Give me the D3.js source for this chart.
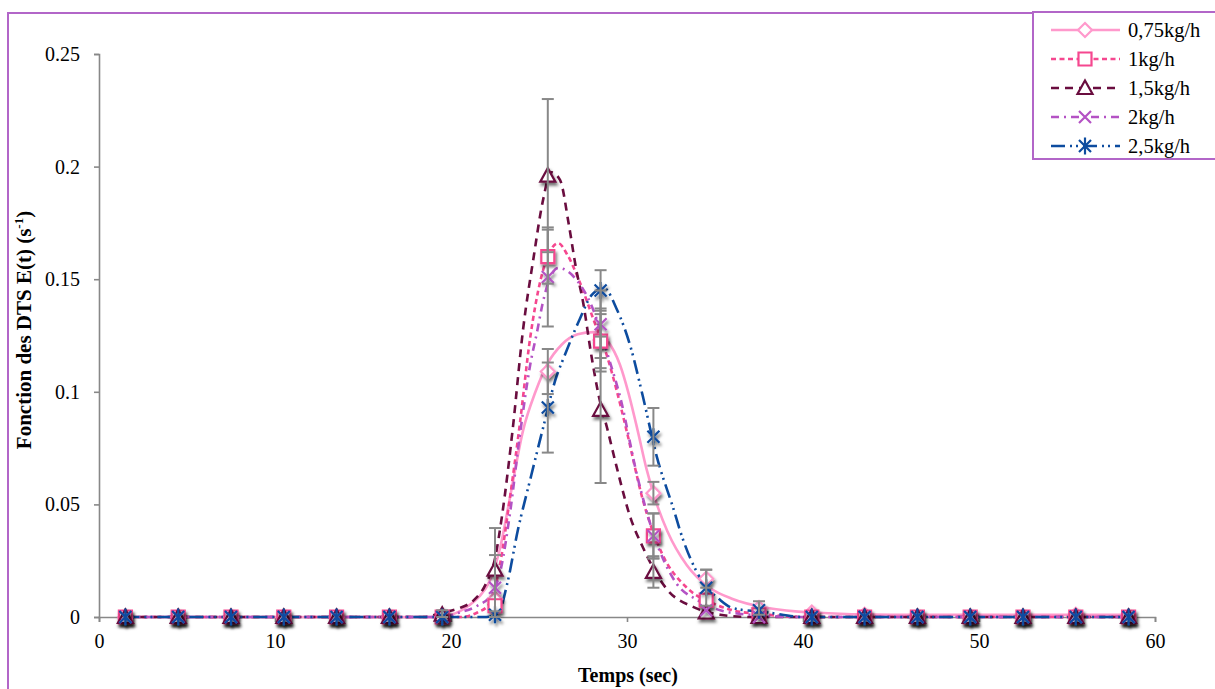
<!DOCTYPE html>
<html>
<head>
<meta charset="utf-8">
<script src="https://cdn.jsdelivr.net/npm/d3@7"></script>
<style>
  html, body { margin: 0; padding: 0; background: #fff; }
  svg { display: block; }
</style>
</head>
<body>
<svg id="chart" width="1215" height="689"></svg>
<script>
// ---------- DATA ----------
const times = [1.5, 4.5, 7.5, 10.5, 13.5, 16.5, 19.5, 22.5, 25.5, 28.5, 31.5, 34.5, 37.5, 40.5, 43.5, 46.5, 49.5, 52.5, 55.5, 58.5];
const seriesNames = ["0,75kg/h", "1kg/h", "1,5kg/h", "2kg/h", "2,5kg/h"];

const val075 = [0, 0, 0, 0, 0, 0, 0, 0.008, 0.109, 0.123, 0.055, 0.017, 0.004, 0.002, 0.001, 0, 0, 0, 0.001, 0];
const val1   = [0, 0, 0, 0, 0, 0, 0, 0.005, 0.160, 0.1225, 0.036, 0.0075, 0.001, 0, 0, 0, 0, 0, 0, 0];
const val15  = [0, 0, 0, 0, 0, 0, 0.001, 0.021, 0.196, 0.092, 0.020, 0.002, 0, 0, 0, 0, 0, 0, 0, 0];
const val2   = [0, 0, 0, 0, 0, 0, 0, 0.013, 0.151, 0.130, 0.036, 0.003, 0, 0, 0, 0, 0, 0, 0, 0];
const val25  = [0, 0, 0, 0, 0, 0, 0, 0.001, 0.093, 0.145, 0.080, 0.013, 0.003, 0, 0, 0, 0, 0, 0, 0];

const err075 = [0, 0, 0, 0, 0, 0, 0, 0, 0.010, 0.014, 0.005, 0.004, 0.003, 0, 0, 0, 0, 0, 0, 0];
const err1   = [0, 0, 0, 0, 0, 0, 0, 0, 0.012, 0.012, 0.010, 0, 0, 0, 0, 0, 0, 0, 0, 0];
const err15  = [0, 0, 0, 0, 0, 0, 0.002, 0.0185, 0.034, 0.0325, 0.007, 0, 0, 0, 0, 0, 0, 0, 0, 0];
const err2   = [0, 0, 0, 0, 0, 0, 0, 0.0145, 0.022, 0.015, 0.010, 0, 0, 0, 0, 0, 0, 0, 0, 0];
const err25  = [0, 0, 0, 0, 0, 0, 0, 0, 0.020, 0.009, 0.0128, 0.008, 0, 0, 0, 0, 0, 0, 0, 0];

// fitted curves: [time, E(t)]
const curve075 = [[1.5,0],[19,0],[20,0.001],[21,0.005],[21.6,0.009],[22.2,0.016],[22.8,0.031],[23.35,0.053],[24.1,0.083],[24.8,0.100],[25.45,0.112],[26.3,0.121],[27.2,0.1255],[28.1,0.1265],[28.9,0.1225],[29.6,0.112],[30.1,0.099],[30.6,0.083],[31.1,0.066],[31.7,0.050],[32.3,0.038],[33.4,0.023],[34.7,0.013],[36,0.008],[38,0.004],[40.5,0.002],[45,0.001],[58.5,0.001]];
const curve1   = [[1.5,0],[20.5,0],[21.5,0.002],[22.2,0.006],[22.8,0.024],[23.35,0.053],[23.9,0.085],[24.5,0.124],[25.1,0.150],[25.6,0.162],[26.1,0.166],[26.6,0.161],[27.3,0.149],[28.1,0.132],[28.9,0.115],[29.4,0.101],[30.0,0.082],[30.9,0.052],[32.0,0.028],[33.4,0.013],[34.9,0.006],[36,0.003],[38,0.001],[40,0],[58.5,0]];
const curve15  = [[1.5,0],[18.5,0],[19.5,0.002],[20.5,0.004],[21.3,0.0075],[22.0,0.015],[22.5,0.026],[22.9,0.045],[23.5,0.083],[24.1,0.128],[24.7,0.160],[25.2,0.184],[25.7,0.1975],[26.2,0.194],[26.7,0.174],[27.1,0.155],[27.5,0.140],[28.0,0.115],[28.4,0.098],[28.9,0.083],[29.4,0.067],[30.2,0.044],[30.9,0.031],[32.3,0.012],[33.75,0.0045],[35.3,0.001],[37,0],[58.5,0]];
const curve2   = [[1.5,0],[19.5,0],[20.5,0.002],[21.5,0.005],[22.3,0.010],[22.85,0.022],[23.35,0.046],[23.9,0.080],[24.5,0.112],[24.9,0.127],[25.2,0.139],[25.6,0.150],[26.1,0.155],[27.1,0.150],[28.0,0.138],[29.0,0.114],[29.6,0.098],[30.6,0.062],[31.5,0.037],[32.8,0.015],[34.0,0.0075],[35.3,0.003],[37,0.001],[40,0],[58.5,0]];
const curve25  = [[1.5,0],[22,0],[22.7,0.002],[23.2,0.015],[23.8,0.0386],[24.5,0.061],[25.2,0.083],[26.0,0.107],[26.4,0.115],[27.3,0.132],[28.0,0.143],[28.7,0.146],[29.4,0.137],[30.2,0.120],[30.9,0.098],[31.7,0.071],[32.6,0.049],[33.2,0.034],[34.0,0.0195],[35.3,0.0075],[36,0.004],[38,0.002],[40,0],[58.5,0]];

const xTicks = [0, 10, 20, 30, 40, 50, 60];
const yTicks = [0, 0.05, 0.1, 0.15, 0.2, 0.25];
const yTickLabels = ["0", "0.05", "0.1", "0.15", "0.2", "0.25"];

// ---------- STYLES ----------
const FONT = "'Liberation Serif', 'Times New Roman', Tinos, 'DejaVu Serif', serif";
const colors = ["#ff99cc", "#f5478f", "#6a0d3f", "#b452c4", "#0d4c9f"];
const dashes = [null, "5,3.5", "8,6", "8,5,2,5", "14,5,2,4,2,5"];
const markerKinds = ["diamond", "square", "triangle", "x", "asterisk"];

const series = [
  { name: seriesNames[0], vals: val075, errs: err075, curve: curve075 },
  { name: seriesNames[1], vals: val1,   errs: err1,   curve: curve1 },
  { name: seriesNames[2], vals: val15,  errs: err15,  curve: curve15 },
  { name: seriesNames[3], vals: val2,   errs: err2,   curve: curve2 },
  { name: seriesNames[4], vals: val25,  errs: err25,  curve: curve25 }
];

const svg = d3.select("#chart");

const defs = svg.append("defs");
const f = defs.append("filter").attr("id", "shadow").attr("x", "-60%").attr("y", "-60%").attr("width", "220%").attr("height", "220%");
f.append("feDropShadow").attr("dx", 1.5).attr("dy", 3).attr("stdDeviation", 1.8).attr("flood-color", "#000").attr("flood-opacity", 0.55);

svg.append("rect").attr("x", 8).attr("y", 13).attr("width", 1220).attr("height", 700)
  .attr("fill", "none").attr("stroke", "#b266c8").attr("stroke-width", 2);

const x = d3.scaleLinear().domain([0, 60]).range([99, 1155]);
const y = d3.scaleLinear().domain([0, 0.25]).range([617, 54]);

const axisColor = "#888888";

const yAxis = svg.append("g").attr("transform", "translate(99,0)")
  .call(d3.axisLeft(y).tickValues(yTicks).tickFormat((d, i) => yTickLabels[i]).tickSize(5).tickSizeOuter(5).tickPadding(14));
const xAxis = svg.append("g").attr("transform", "translate(0,617)")
  .call(d3.axisBottom(x).tickValues(xTicks).tickFormat(d3.format("d")).tickSize(5).tickSizeOuter(5).tickPadding(12));
[yAxis, xAxis].forEach(a => {
  a.attr("font-family", null).attr("font-size", null);
  a.selectAll("path, line").attr("stroke", axisColor).attr("stroke-width", 1.6);
  a.selectAll("text").style("font-family", FONT).style("font-size", "20px").attr("fill", "#000");
});

svg.append("text").attr("x", 628).attr("y", 682).attr("text-anchor", "middle")
  .style("font-family", FONT).style("font-weight", "bold").style("font-size", "20px").text("Temps (sec)");
const yt = svg.append("text").attr("transform", "translate(31,330) rotate(-90)")
  .attr("text-anchor", "middle").style("font-family", FONT).style("font-weight", "bold").style("font-size", "21px");
yt.append("tspan").text("Fonction des DTS E(t) (s");
yt.append("tspan").style("font-size", "13px").attr("dy", -8).text("-1");
yt.append("tspan").attr("dy", 8).text(")");

function markerPath(kind) {
  switch (kind) {
    case "diamond": return "M0,-7L7,0L0,7L-7,0Z";
    case "square": return "M-6.5,-6.5H6.5V6.5H-6.5Z";
    case "triangle": return "M0,-7.5L7.5,6L-7.5,6Z";
    case "x": return "M-6,-6L6,6M6,-6L-6,6";
    case "asterisk": return "M-6,-6L6,6M6,-6L-6,6M0,-8.5V8.5";
  }
}

const line = d3.line().x(d => x(d[0])).y(d => y(d[1])).curve(d3.curveMonotoneX);

series.forEach((s, i) => {
  svg.append("path").attr("d", line(s.curve)).attr("fill", "none")
    .attr("stroke", colors[i]).attr("stroke-width", 2.6)
    .attr("stroke-dasharray", dashes[i]).attr("stroke-linecap", "butt");
});

series.forEach((s, i) => {
  const g = svg.append("g").attr("filter", "url(#shadow)");
  g.selectAll("path").data(times).join("path")
    .attr("transform", (t, j) => `translate(${x(t)},${y(s.vals[j])})`)
    .attr("d", markerPath(markerKinds[i]))
    .attr("fill", (markerKinds[i] === "x" || markerKinds[i] === "asterisk") ? "none" : "#fff")
    .attr("stroke", colors[i]).attr("stroke-width", 2.2);
});
series.forEach((s, i) => {
  const eg = svg.append("g").attr("stroke", axisColor).attr("stroke-width", 2);
  times.forEach((t, j) => {
    const e = s.errs[j];
    if (!e) return;
    const cx = x(t), y1 = y(s.vals[j] + e), y2 = y(Math.max(0, s.vals[j] - e));
    eg.append("line").attr("x1", cx).attr("x2", cx).attr("y1", y1).attr("y2", y2);
    eg.append("line").attr("x1", cx - 6).attr("x2", cx + 6).attr("y1", y1).attr("y2", y1);
    eg.append("line").attr("x1", cx - 6).attr("x2", cx + 6).attr("y1", y2).attr("y2", y2);
  });
});

const lg = svg.append("g");
lg.append("rect").attr("x", 1033).attr("y", 12).attr("width", 200).attr("height", 147)
  .attr("fill", "#fff").attr("stroke", "#b266c8").attr("stroke-width", 2);
const rowY = [30, 59, 88, 117, 146];
series.forEach((s, i) => {
  const r = lg.append("g").attr("transform", `translate(0,${rowY[i]})`);
  r.append("line").attr("x1", 1051).attr("x2", 1120).attr("y1", 0).attr("y2", 0)
    .attr("stroke", colors[i]).attr("stroke-width", 2.6).attr("stroke-dasharray", dashes[i]);
  r.append("path").attr("transform", "translate(1085,0)").attr("d", markerPath(markerKinds[i]))
    .attr("fill", "#fff").attr("stroke", colors[i]).attr("stroke-width", 2.2);
  r.append("text").attr("x", 1128).attr("y", 7).style("font-family", FONT).style("font-size", "20.5px").text(s.name);
});
</script>
</body>
</html>
